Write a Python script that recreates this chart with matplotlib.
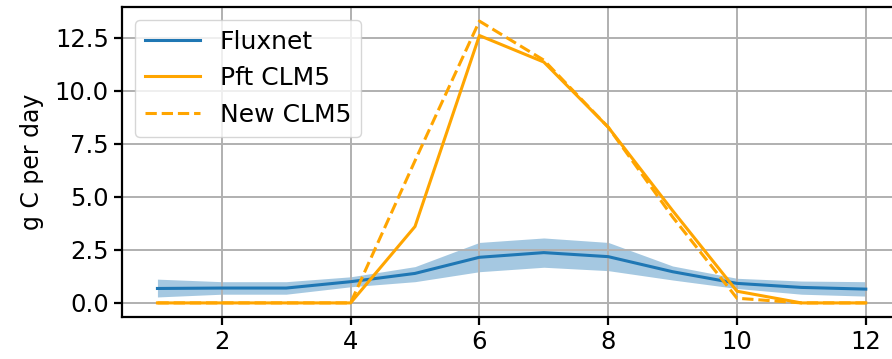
import numpy as np
import matplotlib
matplotlib.use('Agg')
import matplotlib.pyplot as plt

months = np.arange(1, 13)
fluxnet = [0.68, 0.70, 0.70, 1.00, 1.39, 2.15, 2.37, 2.18, 1.47, 0.92, 0.73, 0.65]
fluxnet_low = [0.28, 0.41, 0.41, 0.76, 1.00, 1.47, 1.68, 1.52, 1.08, 0.68, 0.41, 0.32]
fluxnet_high = [1.12, 1.00, 1.00, 1.23, 1.71, 2.85, 3.06, 2.85, 1.74, 1.16, 1.03, 1.00]
pft_clm5 = [0, 0, 0, 0, 3.6, 12.6, 11.35, 8.28, 4.35, 0.55, 0, 0]
new_clm5 = [0, 0, 0, 0, 6.7, 13.28, 11.44, 8.28, 4.05, 0.22, 0, 0]

plt.rcParams['font.size'] = 17.5

fig = plt.figure(figsize=(8.92, 3.59), dpi=100)
ax = fig.add_axes([0.1368, 0.117, 0.8735, 0.8635])

ax.plot(months, fluxnet, color='#1f77b4', linewidth=2.2, label='Fluxnet')
ax.fill_between(months, fluxnet_low, fluxnet_high, color='#1f77b4', alpha=0.4, linewidth=0)
ax.plot(months, pft_clm5, color='orange', linewidth=2.2, label='Pft CLM5')
ax.plot(months, new_clm5, color='orange', linewidth=2.2, linestyle='--', label='New CLM5')

ax.set_ylabel('g C per day', fontsize=17, labelpad=8)
ax.set_xticks([2, 4, 6, 8, 10, 12])
ax.set_yticks([0, 2.5, 5, 7.5, 10, 12.5])
ax.grid(True, color='#b0b0b0', linewidth=1.4)
for s in ax.spines.values():
    s.set_linewidth(1.6)
ax.tick_params(width=1.6, length=6)
ax.legend(loc='upper left', fontsize=18, handlelength=2.2)

fig.savefig('out.png', dpi=100)
